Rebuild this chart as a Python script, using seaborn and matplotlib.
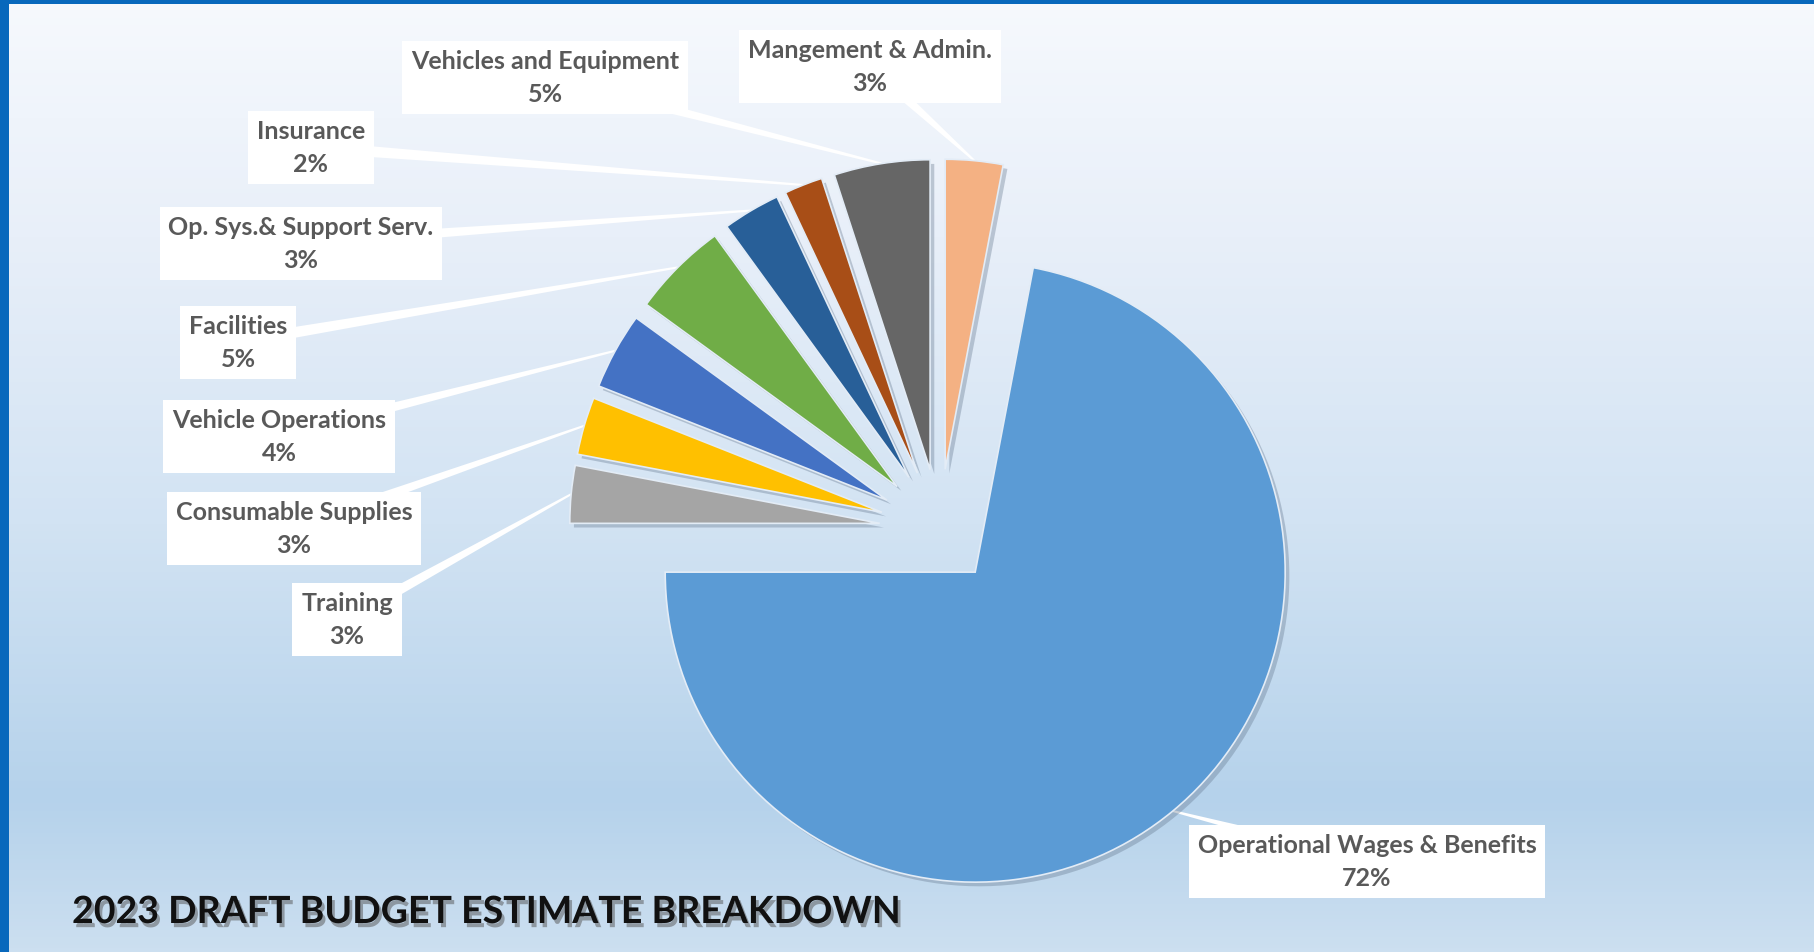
"""
2023 draft budget estimate breakdown - exploded pie chart.
"""

import numpy as np
import matplotlib
matplotlib.use("Agg")
import matplotlib.pyplot as plt
import matplotlib.patheffects as pe
from matplotlib.colors import LinearSegmentedColormap
from matplotlib.patches import Rectangle, Polygon
import seaborn as sns

# data (clockwise from 12 o'clock)
CATEGORIAS = [
    "Mangement & Admin.",
    "Operational Wages & Benefits",
    "Training",
    "Consumable Supplies",
    "Vehicle Operations",
    "Facilities",
    "Op. Sys.& Support Serv.",
    "Insurance",
    "Vehicles and Equipment",
]
PERCENTUAIS = [3, 72, 3, 3, 4, 5, 3, 2, 5]
CORES = ["#F4B183", "#5B9BD5", "#A5A5A5", "#FFC000", "#4472C4",
         "#70AD47", "#285F98", "#A84E17", "#666666"]

# label box centres (pixel coords, y up)
POS_ROTULOS = [(870, 886), (1367, 91), (347, 333), (294, 424), (279, 516),
               (238, 610), (301, 709), (311, 805), (545, 875)]

LARGURA, ALTURA = 1814, 953
CENTRO = (939.5, 423)
RAIO = 310
EXPLODE = [60, 56, 60, 60, 60, 60, 60, 60, 60]

sns.set_theme(style="white")
plt.rcParams["font.family"] = ["Lato", "DejaVu Sans"]

fig = plt.figure(figsize=(LARGURA / 100, ALTURA / 100), dpi=100)
ax = fig.add_axes([0, 0, 1, 1])

# background gradient
fundo = LinearSegmentedColormap.from_list(
    "fundo",
    [(0.0, "#CCDFF0"), (0.16, "#B5D2EB"), (0.45, "#D2E3F3"),
     (0.75, "#E8EFF9"), (1.0, "#F6F9FD")],
)
grad = np.linspace(0, 1, 256).reshape(-1, 1)
ax.imshow(grad, extent=(0, LARGURA, 0, ALTURA), origin="lower",
          cmap=fundo, aspect="auto", zorder=0)

wedges, _ = ax.pie(
    PERCENTUAIS,
    colors=CORES,
    startangle=90,
    counterclock=False,
    center=CENTRO,
    radius=RAIO,
    explode=EXPLODE,
    wedgeprops=dict(edgecolor="#E3ECF6", linewidth=1.2),
)
for w in wedges:
    w.set_zorder(3)
    w.set_path_effects([
        pe.SimplePatchShadow(offset=(3, -3), shadow_rgbFace="#60738a", alpha=0.35),
        pe.Normal(),
    ])

# leader lines + labels
for w, nome, pct, (lx, ly) in zip(wedges, CATEGORIAS, PERCENTUAIS, POS_ROTULOS):
    cx, cy = w.center
    meio = np.radians((w.theta1 + w.theta2) / 2)
    px = cx + w.r * np.cos(meio)
    py = cy + w.r * np.sin(meio)
    dx, dy = px - lx, py - ly
    comp = np.hypot(dx, dy)
    nx, ny = -dy / comp, dx / comp
    ax.add_patch(Polygon(
        [(lx + 6 * nx, ly + 6 * ny), (px + 1 * nx, py + 1 * ny),
         (px - 1 * nx, py - 1 * ny), (lx - 6 * nx, ly - 6 * ny)],
        closed=True, facecolor="white", edgecolor="none", zorder=2))
    ax.text(lx, ly, f"{nome}\n{pct}%", ha="center", va="center",
            multialignment="center", fontsize=18, fontweight="bold",
            color="#595959", linespacing=1.5, zorder=5,
            bbox=dict(boxstyle="square,pad=0.35", facecolor="white", edgecolor="none"))

ax.text(72, 40, "2023 DRAFT BUDGET ESTIMATE BREAKDOWN", ha="left", va="center",
        fontsize=27, fontweight="bold", color="#111111", zorder=5,
        path_effects=[pe.withSimplePatchShadow(offset=(2, -3), shadow_rgbFace="#555555", alpha=0.5)])

# blue frame
ax.add_patch(Rectangle((0, 0), 9, ALTURA, facecolor="#0868BC", edgecolor="none", zorder=6))
ax.add_patch(Rectangle((0, ALTURA - 5), LARGURA, 5, facecolor="#0868BC", edgecolor="none", zorder=6))

ax.set_xlim(0, LARGURA)
ax.set_ylim(0, ALTURA)
ax.set_aspect("auto")
ax.axis("off")

fig.savefig("out.png", dpi=100)
